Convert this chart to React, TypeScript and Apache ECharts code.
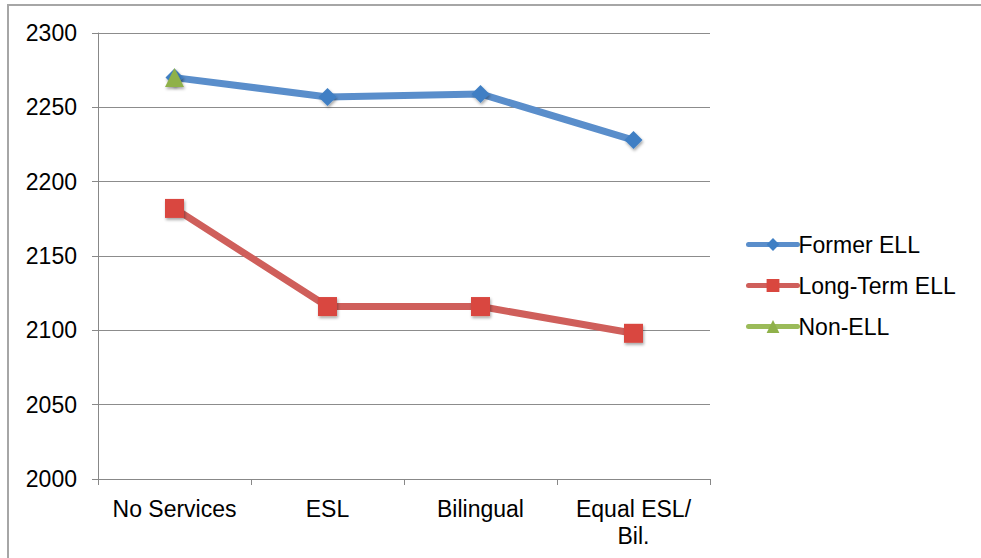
import React, { useEffect, useRef } from "react";
import * as echarts from "echarts";

const categories = ["No Services", "ESL", "Bilingual", "Equal ESL/\nBil."];
const formerEll = [2270, 2257, 2259, 2228];
const longTermEll = [2182, 2116, 2116, 2098];
const nonEll = [2270, null, null, null];
const yTicks = { min: 2000, max: 2300, interval: 50 };

const FONT = "'Liberation Sans', Arial, Helvetica, sans-serif";
const shadow = { shadowBlur: 3, shadowColor: "rgba(0,0,0,0.35)", shadowOffsetX: 1, shadowOffsetY: 2 };

export default function App() {
  const ref = useRef<HTMLDivElement>(null);

  useEffect(() => {
    if (!ref.current) return;
    const chart = echarts.init(ref.current, undefined, { renderer: "svg" });
    chart.setOption({
      animation: false,
      backgroundColor: "#ffffff",
      textStyle: { fontFamily: FONT },
      graphic: [
        {
          type: "rect",
          shape: { x: 8, y: 5, width: 1200, height: 800 },
          style: { fill: "none", stroke: "#a6a6a6", lineWidth: 2 },
          silent: true,
          z: -1,
        },
      ],
      grid: { left: 98, top: 33, width: 612, height: 446, containLabel: false },
      legend: {
        orient: "vertical",
        left: 741,
        top: 228,
        itemWidth: 49,
        itemHeight: 16,
        itemGap: 18,
        lineStyle: { width: 5, cap: "round" },
        textStyle: {
          fontSize: 23,
          lineHeight: 23,
          color: "#000",
          fontFamily: FONT,
          padding: [0, 0, 0, -4],
        },
        data: ["Former ELL", "Long-Term ELL", "Non-ELL"],
      },
      xAxis: {
        type: "category",
        data: categories,
        boundaryGap: true,
        axisLine: { lineStyle: { color: "#888888", width: 1 } },
        axisTick: { show: true, length: 6, lineStyle: { color: "#888888" } },
        axisLabel: {
          fontSize: 23,
          color: "#000",
          margin: 16,
          lineHeight: 27,
          fontFamily: FONT,
          interval: 0,
        },
      },
      yAxis: {
        type: "value",
        min: yTicks.min,
        max: yTicks.max,
        interval: yTicks.interval,
        axisLine: { show: true, lineStyle: { color: "#888888", width: 1 } },
        axisTick: { show: true, length: 6, lineStyle: { color: "#888888" } },
        axisLabel: {
          fontSize: 23,
          color: "#000",
          margin: 21,
          fontFamily: FONT,
          formatter: (v: number) => String(v),
        },
        splitLine: { lineStyle: { color: "#8c8c8c", width: 1 } },
      },
      series: [
        {
          name: "Former ELL",
          type: "line",
          data: formerEll,
          symbol: "diamond",
          symbolSize: 18,
          lineStyle: { color: "#5a8ecb", width: 7 },
          itemStyle: { color: "#3f7fc4", ...shadow },
          z: 2,
        },
        {
          name: "Long-Term ELL",
          type: "line",
          data: longTermEll,
          symbol: "rect",
          symbolSize: 19,
          lineStyle: { color: "#cf5f5b", width: 7 },
          itemStyle: { color: "#d9473f", ...shadow },
          z: 2,
        },
        {
          name: "Non-ELL",
          type: "line",
          data: nonEll,
          symbol: "triangle",
          symbolSize: 19,
          lineStyle: { color: "#9bbb59", width: 7 },
          itemStyle: { color: "#8fb14a", ...shadow },
          z: 3,
        },
      ],
    });
    return () => chart.dispose();
  }, []);

  return (
    <div
      ref={ref}
      style={{ position: "fixed", left: 0, top: 0, width: 981, height: 558 }}
    />
  );
}
